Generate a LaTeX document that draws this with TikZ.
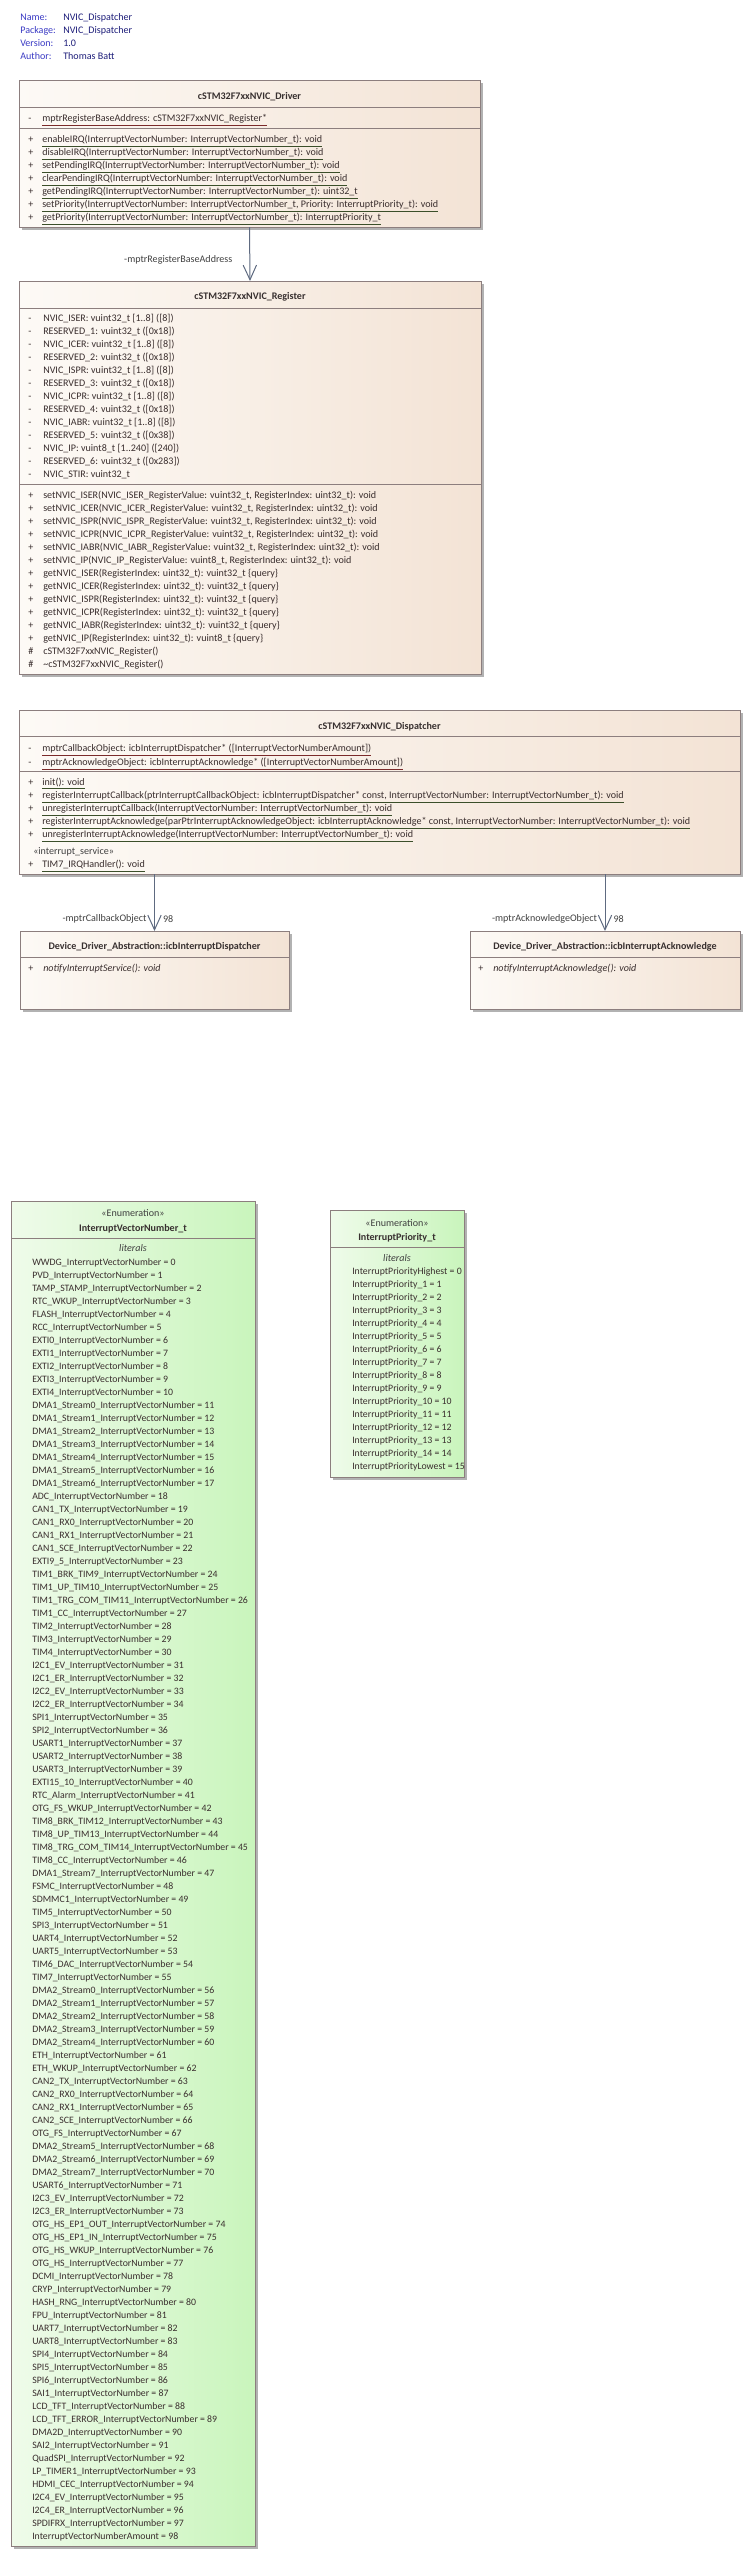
\documentclass[tikz,border=0pt]{standalone}
\usepackage{fontspec}
\setmainfont{Carlito}
\usepackage{tikz}
\usetikzlibrary{arrows.meta,shadows}

\definecolor{classleft}{HTML}{FDFAF6}
\definecolor{classright}{HTML}{F3E3D5}
\definecolor{enumleft}{HTML}{EFFBEA}
\definecolor{enumright}{HTML}{C9F5BC}
\definecolor{classborder}{HTML}{8C7E7E}
\definecolor{membertext}{HTML}{3A2E2E}
\definecolor{titletext}{HTML}{383030}
\definecolor{attrline}{HTML}{7B2A2A}
\definecolor{opline}{HTML}{3B4F2A}
\definecolor{assocline}{HTML}{5E6A80}
\definecolor{labeltext}{HTML}{404040}
\definecolor{hdrkey}{HTML}{3B3BC4}
\definecolor{hdrval}{HTML}{1E1E7A}

\newcommand\umlfont{\fontsize{7.55pt}{9.75pt}\selectfont}
\newcommand\litfont{\fontsize{7.35pt}{9.75pt}\selectfont}
\newcommand\attrul[1]{\textcolor{attrline}{\underline{\textcolor{membertext}{#1}}}}
\newcommand\opul[1]{\textcolor{opline}{\underline{\textcolor{membertext}{#1}}}}

\tikzset{
  classbox/.style={draw=classborder, line width=0.75pt, left color=classleft, right color=classright,
    anchor=north west, inner sep=0pt, outer sep=0pt,
    drop shadow={shadow xshift=2.25pt, shadow yshift=-2.25pt, fill=black!30, opacity=1}},
  enumbox/.style={classbox, left color=enumleft, right color=enumright},
  boxsize/.style 2 args={minimum width=#1*0.75pt, minimum height=#2*0.75pt},
  divider/.style={draw=classborder, line width=0.75pt},
  member/.style={anchor=base west, inner sep=0pt, font=\umlfont, text=membertext},
  vis/.style={member},
  literal/.style={member, font=\litfont},
  classname/.style={anchor=base, inner sep=0pt, font=\umlfont\bfseries, text=titletext},
  stereo/.style={anchor=base, inner sep=0pt, font=\umlfont, text=labeltext},
  assoc/.style={draw=assocline, line width=0.75pt, -{Straight Barb[length=11pt,width=10pt]}},
  conlabel/.style={inner sep=0pt, font=\umlfont, text=labeltext},
  hdrkey/.style={anchor=base west, inner sep=0pt, font=\umlfont, text=hdrkey},
  hdrval/.style={anchor=base west, inner sep=0pt, font=\umlfont, text=hdrval},
}

\begin{document}
\begin{tikzpicture}[x=0.75pt, y=-0.75pt]
\useasboundingbox (0,0) rectangle (751,2557);

% diagram header
\node[hdrkey] (name-k) at (20,20.5) {Name:};
\node[hdrval] (name-v) at (63,20.5) {NVIC\_Dispatcher};
\node[hdrkey] (pkg-k) at (20,33.5) {Package:};
\node[hdrval] (pkg-v) at (63,33.5) {NVIC\_Dispatcher};
\node[hdrkey] (ver-k) at (20,46.5) {Version:};
\node[hdrval] (ver-v) at (63,46.5) {1.0};
\node[hdrkey] (auth-k) at (20,59.5) {Author:};
\node[hdrval] (auth-v) at (63,59.5) {Thomas Batt};

% driver class
\node[classbox, boxsize={461}{147}] (drv) at (19,80) {};
\node[classname] (drv-name) at (drv.center |- 0,99.5) {cSTM32F7xxNVIC\_Driver};
\draw[divider] (drv.west |- 0,107) -- (drv.east |- 0,107);
\node[vis] (drv-av1) at (28,121.5) {-};
\node[member] (drv-a1) at (42,121.5) {\attrul{mptrRegisterBaseAddress: cSTM32F7xxNVIC\_Register*}};
\draw[divider] (drv.west |- 0,128) -- (drv.east |- 0,128);
\foreach \op [count=\i] in {
  {enableIRQ(InterruptVectorNumber: InterruptVectorNumber\_t): void},
  {disableIRQ(InterruptVectorNumber: InterruptVectorNumber\_t): void},
  {setPendingIRQ(InterruptVectorNumber: InterruptVectorNumber\_t): void},
  {clearPendingIRQ(InterruptVectorNumber: InterruptVectorNumber\_t): void},
  {getPendingIRQ(InterruptVectorNumber: InterruptVectorNumber\_t): uint32\_t},
  {setPriority(InterruptVectorNumber: InterruptVectorNumber\_t, Priority: InterruptPriority\_t): void},
  {getPriority(InterruptVectorNumber: InterruptVectorNumber\_t): InterruptPriority\_t}} {
  \node[vis] (drv-ov\i) at (28,{142.5+13.05*(\i-1)}) {+};
  \node[member] (drv-o\i) at (42,{142.5+13.05*(\i-1)}) {\opul{\op}};
}

% register class
\node[classbox, boxsize={462}{393}] (reg) at (19,281) {};
\node[classname] (reg-name) at (reg.center |- 0,299.5) {cSTM32F7xxNVIC\_Register};
\draw[divider] (reg.west |- 0,308) -- (reg.east |- 0,308);
\foreach \at [count=\i] in {
  {NVIC\_ISER: vuint32\_t [1..8] ([8])},
  {RESERVED\_1: vuint32\_t ([0x18])},
  {NVIC\_ICER: vuint32\_t [1..8] ([8])},
  {RESERVED\_2: vuint32\_t ([0x18])},
  {NVIC\_ISPR: vuint32\_t [1..8] ([8])},
  {RESERVED\_3: vuint32\_t ([0x18])},
  {NVIC\_ICPR: vuint32\_t [1..8] ([8])},
  {RESERVED\_4: vuint32\_t ([0x18])},
  {NVIC\_IABR: vuint32\_t [1..8] ([8])},
  {RESERVED\_5: vuint32\_t ([0x38])},
  {NVIC\_IP: vuint8\_t [1..240] ([240])},
  {RESERVED\_6: vuint32\_t ([0x283])},
  {NVIC\_STIR: vuint32\_t}} {
  \node[vis] (reg-av\i) at (28,{321.5+13*(\i-1)}) {-};
  \node[member] (reg-a\i) at (43,{321.5+13*(\i-1)}) {\at};
}
\draw[divider] (reg.west |- 0,484) -- (reg.east |- 0,484);
\foreach \r [count=\i] in {ISER,ICER,ISPR,ICPR,IABR} {
  \node[vis] (reg-sv\i) at (28,{498.5+13*(\i-1)}) {+};
  \node[member] (reg-s\i) at (43,{498.5+13*(\i-1)}) {setNVIC\_\r(NVIC\_\r\_RegisterValue: vuint32\_t, RegisterIndex: uint32\_t): void};
  \node[vis] (reg-gv\i) at (28,{576.5+13*(\i-1)}) {+};
  \node[member] (reg-g\i) at (43,{576.5+13*(\i-1)}) {getNVIC\_\r(RegisterIndex: uint32\_t): vuint32\_t \{query\}};
}
\node[vis] (reg-sv6) at (28,563.5) {+};
\node[member] (reg-s6) at (43,563.5) {setNVIC\_IP(NVIC\_IP\_RegisterValue: vuint8\_t, RegisterIndex: uint32\_t): void};
\node[vis] (reg-gv6) at (28,641.5) {+};
\node[member] (reg-g6) at (43,641.5) {getNVIC\_IP(RegisterIndex: uint32\_t): vuint8\_t \{query\}};
\node[vis] (reg-cv) at (28,654.5) {\#};
\node[member] (reg-ctor) at (43,654.5) {cSTM32F7xxNVIC\_Register()};
\node[vis] (reg-dv) at (28,667.5) {\#};
\node[member] (reg-dtor) at (43,667.5) {\textasciitilde cSTM32F7xxNVIC\_Register()};

\draw[assoc] (drv.south) -- (reg.north)
  node[conlabel, pos=0.61, anchor=east, xshift=-12.75pt] (base-role) {-mptrRegisterBaseAddress};

% dispatcher class
\node[classbox, boxsize={721}{164}] (disp) at (19,710) {};
\node[classname] (disp-name) at (disp.center |- 0,729.5) {cSTM32F7xxNVIC\_Dispatcher};
\draw[divider] (disp.west |- 0,736) -- (disp.east |- 0,736);
\node[vis] (disp-av1) at (28,751.8) {-};
\node[member] (disp-a1) at (42,751.8) {\attrul{mptrCallbackObject: icbInterruptDispatcher* ([InterruptVectorNumberAmount])}};
\node[vis] (disp-av2) at (28,765.2) {-};
\node[member] (disp-a2) at (42,765.2) {\attrul{mptrAcknowledgeObject: icbInterruptAcknowledge* ([InterruptVectorNumberAmount])}};
\draw[divider] (disp.west |- 0,771) -- (disp.east |- 0,771);
\foreach \op [count=\i] in {
  {init(): void},
  {registerInterruptCallback(ptrInterruptCallbackObject: icbInterruptDispatcher* const, InterruptVectorNumber: InterruptVectorNumber\_t): void},
  {unregisterInterruptCallback(InterruptVectorNumber: InterruptVectorNumber\_t): void},
  {registerInterruptAcknowledge(parPtrInterruptAcknowledgeObject: icbInterruptAcknowledge* const, InterruptVectorNumber: InterruptVectorNumber\_t): void},
  {unregisterInterruptAcknowledge(InterruptVectorNumber: InterruptVectorNumber\_t): void}} {
  \node[vis] (disp-ov\i) at (28,{785.2+13.1*(\i-1)}) {+};
  \node[member] (disp-o\i) at (42,{785.2+13.1*(\i-1)}) {\opul{\op}};
}
\node[member, text=labeltext] (disp-isr) at (33,854.5) {«interrupt\_service»};
\node[vis] (disp-ov6) at (28,867.5) {+};
\node[member] (disp-o6) at (42,867.5) {\opul{TIM7\_IRQHandler(): void}};

% interfaces
\node[classbox, boxsize={269}{78}] (cbi) at (20,931) {};
\node[classname] (cbi-name) at (cbi.center |- 0,949.5) {Device\_Driver\_Abstraction::icbInterruptDispatcher};
\draw[divider] (cbi.west |- 0,957) -- (cbi.east |- 0,957);
\node[vis] (cbi-ov1) at (28,971.5) {+};
\node[member] (cbi-o1) at (43,971.5) {\itshape notifyInterruptService(): void};

\node[classbox, boxsize={270}{78}] (ack) at (470,931) {};
\node[classname] (ack-name) at (ack.center |- 0,949.5) {Device\_Driver\_Abstraction::icbInterruptAcknowledge};
\draw[divider] (ack.west |- 0,957) -- (ack.east |- 0,957);
\node[vis] (ack-ov1) at (478,971.5) {+};
\node[member] (ack-o1) at (493,971.5) {\itshape notifyInterruptAcknowledge(): void};

\draw[assoc] (cbi.north |- disp.south) -- (cbi.north)
  node[conlabel, pos=0.79, anchor=east, xshift=-5.6pt] (cb-role) {-mptrCallbackObject}
  node[conlabel, pos=0.79, anchor=west, xshift=6pt] (cb-mult) {98};
\draw[assoc] (ack.north |- disp.south) -- (ack.north)
  node[conlabel, pos=0.79, anchor=east, xshift=-5.6pt] (ack-role) {-mptrAcknowledgeObject}
  node[conlabel, pos=0.79, anchor=west, xshift=6pt] (ack-mult) {98};

% enumeration InterruptVectorNumber_t
\node[enumbox, boxsize={244}{1345}] (ivn) at (11,1201) {};
\node[stereo] (ivn-st) at (ivn.center |- 0,1216.5) {«Enumeration»};
\node[classname] (ivn-name) at (ivn.center |- 0,1231.5) {InterruptVectorNumber\_t};
\draw[divider] (ivn.west |- 0,1238) -- (ivn.east |- 0,1238);
\node[stereo] (ivn-lit) at (ivn.center |- 0,1251.5) {\itshape literals};
\foreach \n [count=\i from 0] in {WWDG,
  PVD,TAMP\_STAMP,RTC\_WKUP,FLASH,RCC,EXTI0,EXTI1,EXTI2,EXTI3,EXTI4,
  DMA1\_Stream0,DMA1\_Stream1,DMA1\_Stream2,DMA1\_Stream3,DMA1\_Stream4,DMA1\_Stream5,DMA1\_Stream6,
  ADC,CAN1\_TX,CAN1\_RX0,CAN1\_RX1,CAN1\_SCE,EXTI9\_5,
  TIM1\_BRK\_TIM9,TIM1\_UP\_TIM10,TIM1\_TRG\_COM\_TIM11,TIM1\_CC,TIM2,TIM3,TIM4,
  I2C1\_EV,I2C1\_ER,I2C2\_EV,I2C2\_ER,SPI1,SPI2,USART1,USART2,USART3,
  EXTI15\_10,RTC\_Alarm,OTG\_FS\_WKUP,TIM8\_BRK\_TIM12,TIM8\_UP\_TIM13,TIM8\_TRG\_COM\_TIM14,TIM8\_CC,
  DMA1\_Stream7,FSMC,SDMMC1,TIM5,SPI3,UART4,UART5,TIM6\_DAC,TIM7,
  DMA2\_Stream0,DMA2\_Stream1,DMA2\_Stream2,DMA2\_Stream3,DMA2\_Stream4,
  ETH,ETH\_WKUP,CAN2\_TX,CAN2\_RX0,CAN2\_RX1,CAN2\_SCE,OTG\_FS,
  DMA2\_Stream5,DMA2\_Stream6,DMA2\_Stream7,USART6,I2C3\_EV,I2C3\_ER,
  OTG\_HS\_EP1\_OUT,OTG\_HS\_EP1\_IN,OTG\_HS\_WKUP,OTG\_HS,DCMI,CRYP,HASH\_RNG,FPU,
  UART7,UART8,SPI4,SPI5,SPI6,SAI1,LCD\_TFT,LCD\_TFT\_ERROR,DMA2D,SAI2,QuadSPI,
  LP\_TIMER1,HDMI\_CEC,I2C4\_EV,I2C4\_ER,SPDIFRX} {
  \node[literal] (ivn-\i) at (32,{1265.5+13*\i}) {\n\_InterruptVectorNumber = \i};
}
\node[literal] (ivn-98) at (32,2539.5) {InterruptVectorNumberAmount = 98};

% enumeration InterruptPriority_t
\node[enumbox, boxsize={134}{267}] (prio) at (330,1210) {};
\node[stereo] (prio-st) at (prio.center |- 0,1226.5) {«Enumeration»};
\node[classname] (prio-name) at (prio.center |- 0,1240.5) {InterruptPriority\_t};
\draw[divider] (prio.west |- 0,1247) -- (prio.east |- 0,1247);
\node[stereo] (prio-lit) at (prio.center |- 0,1261.5) {\itshape literals};
\node[literal] (prio-0) at (352,1274.5) {InterruptPriorityHighest = 0};
\foreach \i in {1,...,14} {
  \node[literal] (prio-\i) at (352,{1274.5+13*\i}) {InterruptPriority\_\i{} = \i};
}
\node[literal] (prio-15) at (352,1469.5) {InterruptPriorityLowest = 15};

\end{tikzpicture}
\end{document}
